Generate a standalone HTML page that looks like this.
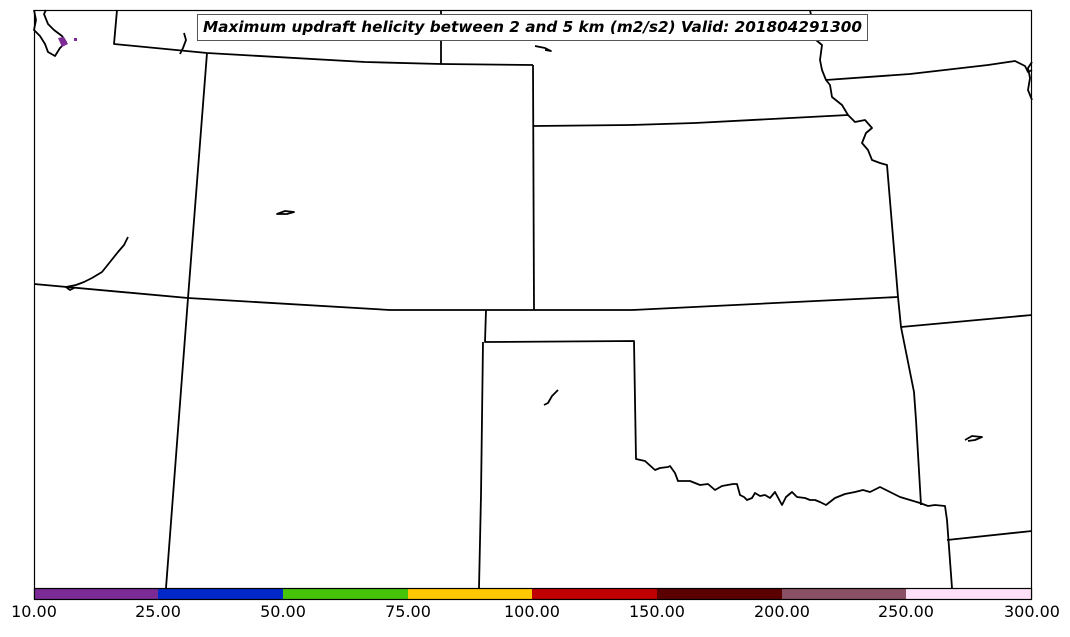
<!DOCTYPE html>
<html><head><meta charset="utf-8"><style>
body{margin:0;background:#fff;width:1070px;height:633px;overflow:hidden;font-family:"DejaVu Sans","Liberation Sans",sans-serif}
</style></head><body>
<svg width="1070" height="633" viewBox="0 0 1070 633" xmlns="http://www.w3.org/2000/svg" font-family="DejaVu Sans, Liberation Sans, sans-serif">
<g fill="none" stroke="#000" stroke-width="1.8" stroke-linejoin="round">
<polyline points="117,10 114,44 207,53 365,62 441,64 533,65"/>
<line x1="441" y1="10" x2="441" y2="64"/>
<polyline points="207,53 188,298 166,588"/>
<polyline points="34,284 188,298 390,310 420,310 534,310 632,310 898,297"/>
<line x1="533" y1="65" x2="534" y2="310"/>
<polyline points="534,126 630,125 695,123 848,115 855,122 865,120 872,128 866,133 862,143 868,150 872,160 880,163 887,165 898,297 901,327 914,392 916,420 921,505"/>
<polyline points="810,10 812,20 818,25 816,40 822,45 820,60 822,70 826,80 830,85 832,97 842,105 848,115"/>
<polyline points="826,80 910,74 988,65 1015,61 1025,66 1028,72 1032,70"/>
<polyline points="1032,62 1028,68 1030,78 1028,90 1032,100"/>
<polyline points="901,327 1032,315"/>
<polyline points="947,540 1032,531"/>
<polyline points="486,310 485,342 634,341 636,459 645,461 655,470 660,468 668,467 670,466 675,473 678,481 690,481 700,485 708,484 715,490 722,486 733,484 737,484 740,495 744,497 747,500 752,498 755,493 760,496 765,495 770,498 775,492 782,505 786,497 792,492 797,497 805,498 810,500 815,500 820,502 826,505 835,498 845,494 855,492 863,490 870,492 880,487 890,492 900,497 910,500 920,503 928,506 935,505 945,506 947,520 952,588"/>
<polyline points="483,342 481,495 479,588"/>
<polyline points="34,10 36,20 34,30 40,36 45,44 48,52 55,56 60,48 66,42 62,36 54,30 48,24 44,14 46,10"/>
<polyline points="184,33 186,40 183,48 180,54"/>
<polyline points="535,46 545,48 551,51 545,50"/>
<path d="M277,214 L285,211 L294,212 L287,214 Z"/>
<polyline points="128,237 124,245 118,252 110,262 102,272 92,278 84,282 76,285 66,287 70,290 74,288"/>
<polyline points="558,390 552,396 548,403 544,405"/>
<polyline points="965,440 972,436 982,437 975,440 968,441"/>
</g>
<path d="M58,38 L64,37 L68,44 L62,47 Z" fill="#7b2a96"/>
<rect x="74" y="38" width="3" height="3" fill="#7b2a96"/>
<rect x="34.5" y="10.5" width="997" height="588" fill="none" stroke="#000" stroke-width="1.2"/>
<rect x="34" y="588" width="124" height="11" fill="#7b2a96"/>
<rect x="158" y="588" width="125" height="11" fill="#0028c8"/>
<rect x="283" y="588" width="125" height="11" fill="#46c40a"/>
<rect x="408" y="588" width="124" height="11" fill="#ffc800"/>
<rect x="532" y="588" width="125" height="11" fill="#c00000"/>
<rect x="657" y="588" width="125" height="11" fill="#5a0000"/>
<rect x="782" y="588" width="124" height="11" fill="#8a5065"/>
<rect x="906" y="588" width="126" height="11" fill="#ffe0f8"/>
<rect x="34.5" y="588.5" width="997" height="11" fill="none" stroke="#000" stroke-width="1.2"/>
<g font-size="16" fill="#000" text-anchor="middle">
<text x="34" y="617">10.00</text><text x="158" y="617">25.00</text><text x="283" y="617">50.00</text><text x="408" y="617">75.00</text><text x="532" y="617">100.00</text><text x="657" y="617">150.00</text><text x="782" y="617">200.00</text><text x="906" y="617">250.00</text><text x="1032" y="617">300.00</text>
</g>
<rect x="197.5" y="14.5" width="670" height="26" fill="#fff" stroke="#555" stroke-width="1"/>
<text x="203" y="32" font-size="15" font-weight="bold" font-style="italic" textLength="659" lengthAdjust="spacingAndGlyphs">Maximum updraft helicity between 2 and 5 km (m2/s2) Valid: 201804291300</text>
</svg>
</body></html>
